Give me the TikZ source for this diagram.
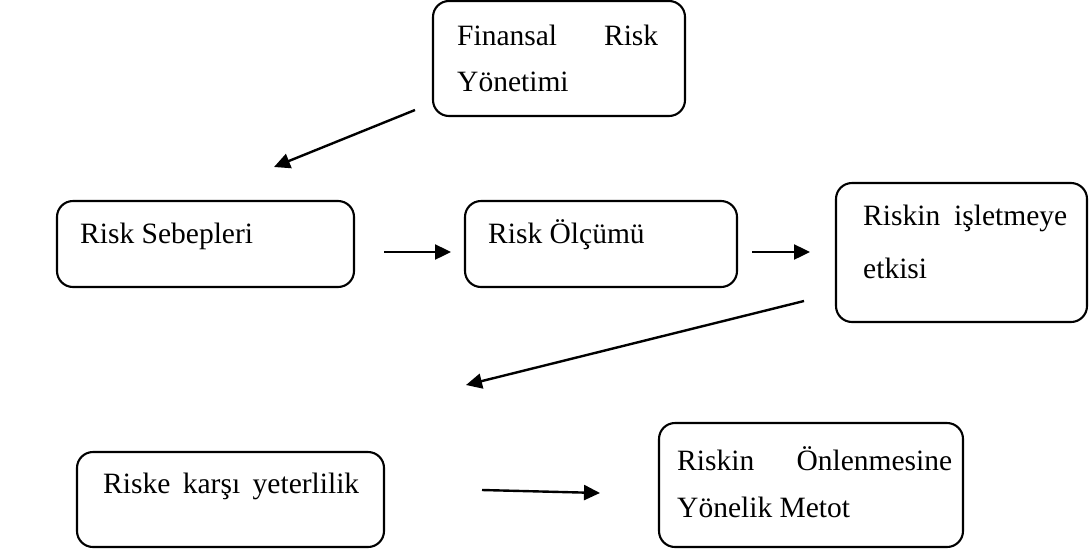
\documentclass[tikz,border=0pt]{standalone}
\usepackage{fontspec}
\setmainfont{Liberation Serif}
\usetikzlibrary{arrows.meta}
\begin{document}
\begin{tikzpicture}[x=1pt,y=-1pt,
  box/.style={draw, line width=2.1pt, rounded corners=16pt, inner sep=0pt},
  lbl/.style={anchor=base west, inner sep=0pt, font=\fontsize{29.5}{34}\selectfont},
  arr/.style={line width=2.4pt, -{Triangle[length=16pt,width=15pt]}}]
\useasboundingbox (0,0) rectangle (1089,552);
% boxes
\node[box, minimum width=252pt, minimum height=115pt] (b1) at (559,58.5) {};
\node[box, minimum width=297pt, minimum height=86pt] (b2) at (205.5,244) {};
\node[box, minimum width=272pt, minimum height=86pt] (b3) at (601,244) {};
\node[box, minimum width=251pt, minimum height=139pt] (b4) at (961.5,252.5) {};
\node[box, minimum width=307pt, minimum height=95pt] (b5) at (230.5,499.5) {};
\node[box, minimum width=304pt, minimum height=124pt] (b6) at (811,485) {};
% texts
\node[lbl] (t1a) at (457,45) {\makebox[201pt][s]{Finansal Risk}};
\node[lbl] (t1b) at (457,91) {Yönetimi};
\node[lbl] (t2) at (80,243) {Risk Sebepleri};
\node[lbl] (t3) at (488,243) {Risk Ölçümü};
\node[lbl] (t4a) at (863,225) {\makebox[204pt][s]{Riskin işletmeye}};
\node[lbl] (t4b) at (863,278) {etkisi};
\node[lbl] (t5) at (103,493) {\makebox[256pt][s]{Riske karşı yeterlilik}};
\node[lbl] (t6a) at (677,470) {\makebox[275pt][s]{Riskin Önlenmesine}};
\node[lbl] (t6b) at (677,517) {Yönelik Metot};
% arrow end points
\coordinate (a1s) at (415,110); \coordinate (a1e) at (274,167);
\coordinate (a2s) at (384,252); \coordinate (a2e) at (451,252);
\coordinate (a3s) at (752,252); \coordinate (a3e) at (810,252);
\coordinate (a4s) at (804,301); \coordinate (a4e) at (466,385);
\coordinate (a5s) at (482,490); \coordinate (a5e) at (600,493);
\draw[arr] (a1s) -- (a1e);
\draw[arr] (a2s) -- (a2e);
\draw[arr] (a3s) -- (a3e);
\draw[arr] (a4s) -- (a4e);
\draw[arr] (a5s) -- (a5e);
\end{tikzpicture}
\end{document}
